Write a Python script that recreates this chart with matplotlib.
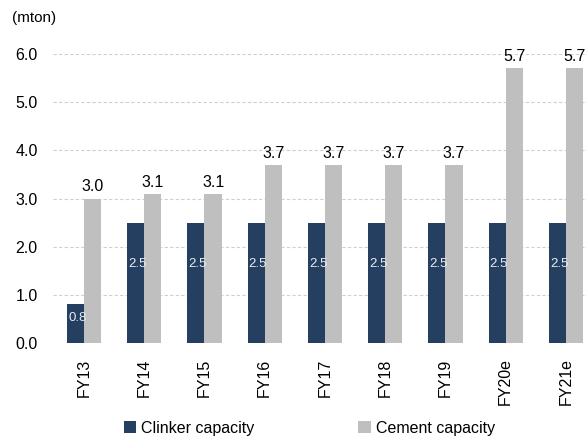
import matplotlib.pyplot as plt
import numpy as np

# data
years = ['FY13', 'FY14', 'FY15', 'FY16', 'FY17', 'FY18', 'FY19', 'FY20e', 'FY21e']
clinker = [0.8, 2.5, 2.5, 2.5, 2.5, 2.5, 2.5, 2.5, 2.5]
cement = [3.0, 3.1, 3.1, 3.7, 3.7, 3.7, 3.7, 5.7, 5.7]
yticks = [0, 1, 2, 3, 4, 5, 6]

plt.rcParams['font.family'] = ['Liberation Sans', 'DejaVu Sans']

fig = plt.figure(figsize=(5.87, 4.36), dpi=100)
ax = fig.add_axes([53/587, 1-343/436, 1-53/587, (343-54)/436])

x = np.arange(len(years))
w = 0.285
b1 = ax.bar(x - w/2, clinker, w, color='#243F60', label='Clinker capacity', zorder=3)
b2 = ax.bar(x + w/2, cement, w, color='#BFBFBF', label='Cement capacity', zorder=3)

# labels
for xi, v in zip(x, clinker):
    ax.text(xi - w/2 + 0.03, v*0.66, f'{v:.1f}', color='#E8ECF2', ha='center', va='center',
            fontsize=9.5, zorder=4)
for xi, v in zip(x, cement):
    ax.annotate(f'{v:.1f}', (xi + w/2, v), xytext=(0, 3), textcoords='offset points',
                ha='center', va='bottom', fontsize=11.5, clip_on=False)

ax.set_xlim(-0.515, 8.35)
ax.set_ylim(0, 6)
ax.set_yticks(yticks)
ax.set_yticklabels([f'{t:.1f}' for t in yticks], fontsize=11.5)
ax.set_xticks(x)
ax.set_xticklabels(years, rotation=90, fontsize=11.5)
ax.tick_params(length=0, pad=11)
ax.yaxis.grid(True, linestyle=(0, (3, 2)), color='#D0D0D0', linewidth=0.8, zorder=0)
for s in ax.spines.values():
    s.set_visible(False)

fig.text(12/587, 1-18/436, '(mton)', fontsize=11, va='center')

fig.legend(handles=[b1, b2], loc='center', bbox_to_anchor=(0.527, 1-428/436), ncol=2,
           frameon=False, fontsize=11.5, handlelength=0.8, handleheight=0.8,
           handletextpad=0.3, columnspacing=6.5)

plt.savefig('out.png', dpi=100)
